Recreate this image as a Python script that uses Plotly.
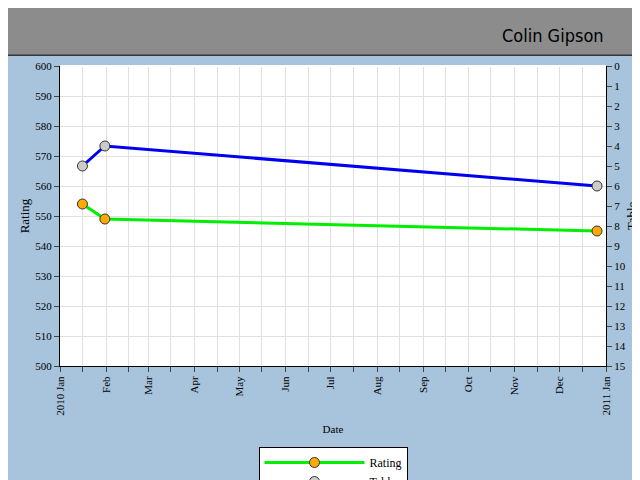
import plotly.graph_objects as go

dates = ["2010-01-16", "2010-01-31", "2010-12-26"]
rating = [554, 549, 545]
table = [5, 4, 6]
month_vals = ["2010-%02d-01" % m for m in range(1, 13)] + ["2011-01-01"]
month_text = ["2010 Jan","Feb","Mar","Apr","May","Jun","Jul","Aug","Sep","Oct","Nov","Dec","2011 Jan"]

font = "Liberation Serif, DejaVu Serif, serif"
fig = go.Figure()
fig.add_trace(go.Scatter(x=dates, y=rating, name="Rating", mode="lines+markers",
    line=dict(color="#00ee00", width=3),
    marker=dict(size=10, color="#ffaa00", line=dict(color="#333", width=1))))
fig.add_trace(go.Scatter(x=dates, y=table, name="Table", mode="lines+markers", yaxis="y2",
    line=dict(color="#0000ee", width=3),
    marker=dict(size=10, color="#cccccc", line=dict(color="#333", width=1))))

fig.update_layout(
    width=640, height=480, margin=dict(l=52, r=42, t=58, b=122, autoexpand=False),
    paper_bgcolor="#a7c4dc", plot_bgcolor="white",
    font=dict(family=font, size=11, color="black"),
    showlegend=True,
    legend=dict(orientation="v", x=0.5, xanchor="center", y=-0.27, yanchor="top",
                bgcolor="white", bordercolor="black", borderwidth=1,
                font=dict(size=12), itemwidth=100, tracegroupgap=0),
    xaxis=dict(type="date", range=["2010-01-01", "2011-01-01"], automargin=False,
               tickvals=month_vals, ticktext=month_text, tickangle=-90,
               ticks="outside", ticklen=5,
               showline=True, linecolor="black", gridcolor="#e0e0e0",
               minor=dict(dtick="M1", tick0="2010-01-16", ticks="outside", ticklen=5, showgrid=True, gridcolor="#e0e0e0"),
               title=dict(text="Date", font=dict(size=11), standoff=10)),
    yaxis=dict(range=[500, 600], dtick=10, ticks="outside", ticklen=5, automargin=False,
               showline=True, linecolor="black", gridcolor="#e0e0e0",
               title=dict(text="Rating", standoff=2)),
    yaxis2=dict(range=[15, 0], dtick=1, overlaying="y", side="right", ticks="outside", ticklen=5,
                automargin=False, showline=True, linecolor="black", showgrid=False,
                title=dict(text="Table", standoff=2)),
    shapes=[dict(type="rect", xref="paper", yref="paper", x0=-0.1, x1=1.08, y0=1.036, y1=1.2,
                 fillcolor="#8c8c8c", line=dict(color="black", width=1), layer="below")],
    annotations=[dict(text="Colin Gipson", xref="paper", yref="paper", x=1.0, y=1.1,
                      xanchor="right", yanchor="middle", showarrow=False,
                      font=dict(size=18, family="DejaVu Sans Condensed, sans-serif"))],
)
fig.write_html("out.html")
